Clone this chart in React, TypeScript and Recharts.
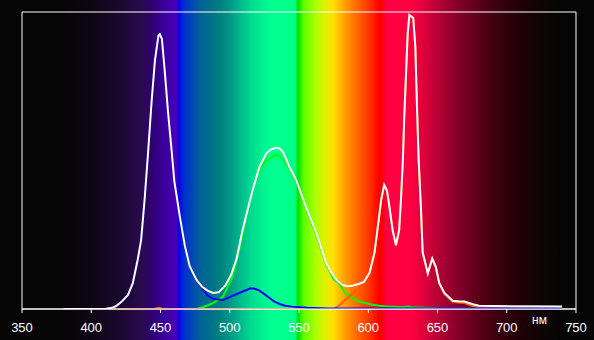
import { Line, LineChart, ReferenceArea, XAxis, YAxis } from "recharts"

// wavelength (nm) / relative intensity pairs
const total: [number, number][] = [
  [380, 0], [410, 0], [415, 0.004], [418, 0.01], [422, 0.025], [426.5, 0.047], [430, 0.087],
  [433.5, 0.165], [436, 0.232], [438.5, 0.367], [441, 0.525], [443.5, 0.694], [446, 0.838],
  [448.5, 0.92], [449.5, 0.925], [451, 0.91], [453, 0.805], [455.5, 0.66], [458, 0.535],
  [460, 0.43], [464, 0.31], [467.5, 0.215], [471, 0.145], [476, 0.098], [480, 0.075],
  [484, 0.062], [488, 0.054], [492, 0.056], [497, 0.08], [501, 0.115], [505, 0.17],
  [509, 0.26], [512, 0.317], [516.5, 0.4], [521.5, 0.479], [526.5, 0.525], [530, 0.538],
  [533.5, 0.543], [536, 0.54], [538.5, 0.528], [543, 0.479], [548, 0.434], [555, 0.344],
  [562.5, 0.256], [569.5, 0.155], [573, 0.125], [577, 0.098], [581, 0.082], [585, 0.077],
  [589, 0.079], [593, 0.084], [597, 0.092], [601, 0.123], [604.5, 0.19], [607, 0.28],
  [609.3, 0.367], [611.5, 0.418], [613.5, 0.4], [615.3, 0.344], [617.6, 0.266], [620, 0.215],
  [622.3, 0.266], [623.6, 0.367], [625, 0.502], [626, 0.647], [627.3, 0.795], [628.5, 0.929],
  [629.7, 0.99], [632.5, 0.98], [634, 0.882], [635.2, 0.68], [636.4, 0.502], [638, 0.343],
  [639.3, 0.19], [641.2, 0.155], [643, 0.12], [646.2, 0.17], [648.8, 0.142], [651.3, 0.087],
  [655, 0.054], [661, 0.028], [665, 0.026], [669.5, 0.025], [675.5, 0.016], [680, 0.011],
  [690, 0.01], [740, 0.008],
]

const green: [number, number][] = [
  [380, 0], [476, 0], [480, 0.005], [488, 0.02], [495, 0.041], [502, 0.109], [508, 0.222],
  [514, 0.357], [518, 0.42], [521.5, 0.468], [525, 0.495], [528.7, 0.507], [532, 0.515],
  [534.7, 0.518], [537, 0.512], [540.8, 0.49], [545, 0.455], [550, 0.41], [555, 0.34],
  [562.5, 0.25], [569.5, 0.15], [575, 0.1], [579, 0.085], [584, 0.05], [588.5, 0.037],
  [593, 0.026], [598, 0.02], [603, 0.014], [608, 0.011], [615, 0.008], [625, 0.006],
  [629, 0.008], [631, 0.006], [640, 0.004], [650, 0.002], [700, 0.001], [740, 0.001],
]

const blue: [number, number][] = [
  [380, 0], [410, 0], [415, 0.004], [418, 0.01], [422, 0.025], [426.5, 0.047], [430, 0.087],
  [433.5, 0.165], [436, 0.232], [438.5, 0.367], [441, 0.525], [443.5, 0.694], [446, 0.838],
  [448.5, 0.92], [449.5, 0.925], [451, 0.91], [453, 0.805], [455.5, 0.66], [458, 0.535],
  [460, 0.43], [464, 0.31], [467.5, 0.215], [471, 0.145], [476, 0.095], [480, 0.07],
  [484, 0.045], [488, 0.034], [495, 0.03], [502, 0.044], [509, 0.058], [515, 0.07],
  [518, 0.068], [521.5, 0.062], [525, 0.05], [528.7, 0.037], [532, 0.026], [536, 0.017],
  [540, 0.011], [545, 0.008], [556, 0.004], [570, 0.002], [740, 0.002],
]

const red: [number, number][] = [
  [380, 0], [445, 0], [449, 0.004], [452, 0], [575, 0], [578, 0.008], [582, 0.025],
  [586, 0.041], [590, 0.06], [595, 0.078], [597, 0.088], [601, 0.12], [604.5, 0.187],
  [607, 0.277], [609.3, 0.364], [611.5, 0.415], [613.5, 0.397], [615.3, 0.341], [617.6, 0.263],
  [620, 0.212], [622.3, 0.263], [623.6, 0.364], [625, 0.5], [626, 0.645], [627.3, 0.793],
  [628.5, 0.927], [629.7, 0.988], [632.5, 0.978], [634, 0.88], [635.2, 0.678], [636.4, 0.5],
  [638, 0.341], [639.3, 0.188], [641.2, 0.153], [643, 0.118], [646.2, 0.168], [648.8, 0.14],
  [651.3, 0.085], [655, 0.05], [661, 0.024], [665, 0.022], [669.5, 0.02], [675.5, 0.01],
  [680, 0.006], [690, 0.004], [700, 0.002], [740, 0.001],
]

const ticks = [350, 400, 450, 500, 550, 600, 650, 700, 750]

const toRows = (pts: [number, number][]) => pts.map(([nm, v]) => ({ nm, v }))

const spectrum =
  "linear-gradient(to right, #050505 0px, #050505 60px, #0c0612 90px, #1a0830 120px, #2a0a50 143px, " +
  "#300070 152px, #3a00a0 165px, #4a00b8 176px, #0a00e8 179px, #0030d0 184px, #005f98 200px, " +
  "#00807f 220px, #009888 230px, #00d890 250px, #00f090 262px, #00ff90 272px, #00ff88 295px, " +
  "#00e000 298px, #60ff00 304px, #a8ff00 315px, #e0f000 325px, #ffe000 333px, #ffa800 343px, " +
  "#ff7000 355px, #ff3000 370px, #ff0000 379px, #ff0000 382px, #ff0040 386px, #ff0040 410px, " +
  "#e8003c 420px, #b00034 440px, #800028 460px, #580018 480px, #38000c 500px, #200006 520px, " +
  "#100404 540px, #050505 560px, #050505 594px)"

const font = '"Liberation Sans", Arial, sans-serif'

export default function App() {
  return (
    <div
      style={{
        position: "absolute",
        left: 0,
        top: 0,
        width: 594,
        height: 340,
        background: spectrum,
        fontFamily: font,
      }}
    >
      <LineChart width={594} height={340} margin={{ top: 12, right: 18, left: 22, bottom: 0 }}>
        <XAxis
          dataKey="nm"
          type="number"
          domain={[350, 750]}
          ticks={ticks}
          allowDataOverflow
          height={31}
          stroke="#ffffff"
          tickSize={4}
          tickMargin={10}
          tick={{ fill: "#ffffff", fontSize: 13, fontFamily: font }}
        />
        <YAxis hide type="number" domain={[0, 1]} allowDataOverflow width={0} />
        <ReferenceArea x1={350} x2={750} y1={0} y2={1} fill="none" stroke="#ffffff" strokeWidth={1} ifOverflow="visible" />
        <Line data={toRows(green)} dataKey="v" type="linear" stroke="#00ff00" strokeWidth={2} dot={false} isAnimationActive={false} />
        <Line data={toRows(red)} dataKey="v" type="linear" stroke="#ff5a00" strokeWidth={2} dot={false} isAnimationActive={false} />
        <Line data={toRows(blue)} dataKey="v" type="linear" stroke="#0000ff" strokeWidth={2} dot={false} isAnimationActive={false} />
        <Line data={toRows(total)} dataKey="v" type="linear" stroke="#ffffff" strokeWidth={2} dot={false} isAnimationActive={false} />
      </LineChart>
      <div
        style={{
          position: "absolute",
          left: 532,
          top: 314,
          fontSize: 12,
          color: "#ffffff",
          lineHeight: "12px",
        }}
      >
        нм
      </div>
    </div>
  )
}
